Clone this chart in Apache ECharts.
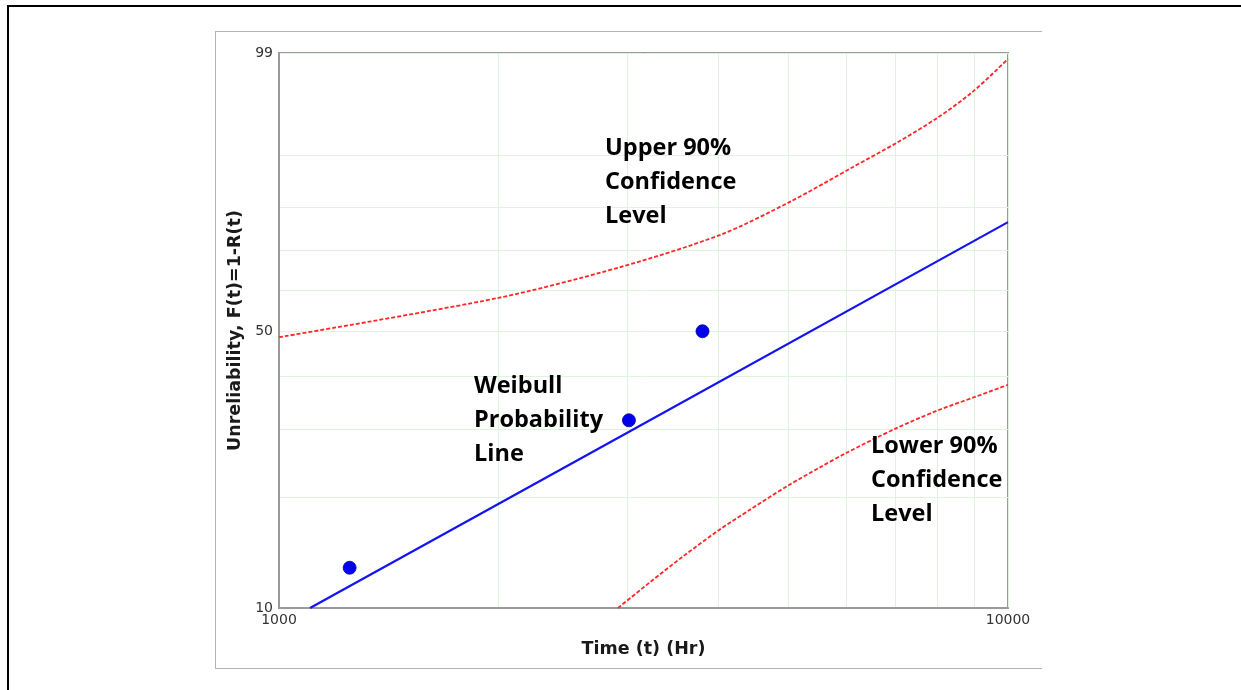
<!DOCTYPE html>
<html>
<head>
<meta charset="utf-8">
<script src="https://cdn.jsdelivr.net/npm/echarts@6/dist/echarts.min.js"></script>
<style>
  html, body { margin: 0; padding: 0; background: #fff; }
  #outer { position: absolute; left: 7px; top: 5px; width: 1300px; height: 800px;
           border-left: 2px solid #000; border-top: 2px solid #000; }
  #frame { position: absolute; left: 215px; top: 31px; width: 826px; height: 636px;
           border-left: 1px solid #b4b4b4; border-top: 1px solid #b4b4b4; border-bottom: 1px solid #b4b4b4; }
  #chart { position: absolute; left: 0; top: 0; width: 1241px; height: 690px; }
</style>
</head>
<body>
<div id="outer"></div>
<div id="frame"></div>
<div id="chart"></div>
<script>
// ---- data ----
const timeTicks = [1000, 10000];
const unrelTicks = [10, 50, 99];
const timeGrid = [1000, 2000, 3000, 4000, 5000, 6000, 7000, 8000, 9000, 10000];
const unrelGrid = [10, 20, 30, 40, 50, 60, 70, 80, 90, 99];

const failureTimes = [1250, 3020, 3810];
const medianRanks = [12.94, 31.48, 50.0];

const fitTimes = [1103, 3000, 10000];
const fitUnrel = [10.0, 29.3, 76.7];

const upperTimes = [1000, 2000, 2940, 4030, 5020, 6130, 7040, 7990, 8950, 10000];
const upperUnrel = [48.6, 58.1, 65.8, 73.7, 81.2, 88.0, 91.8, 94.8, 97.1, 98.8];

const lowerTimes = [2917, 3228, 3583, 4014, 4428, 5007, 5522, 5996, 6998, 7991, 9010, 10000];
const lowerUnrel = [10.0, 11.8, 13.9, 16.4, 18.6, 21.6, 24.0, 26.1, 30.0, 33.2, 35.8, 38.2];

// ---- Weibull probability paper scales ----
const lx = t => Math.log10(t);
const wy = f => Math.log(-Math.log(1 - f / 100));
const pairs = (ts, fs) => ts.map((t, i) => [lx(t), wy(fs[i])]);

const tickLabelX = {};
timeTicks.forEach(t => { tickLabelX[lx(t).toFixed(6)] = String(t); });
const tickLabelY = {};
unrelTicks.forEach(f => { tickLabelY[wy(f).toFixed(6)] = String(f); });

const chart = echarts.init(document.getElementById('chart'), null, { renderer: 'canvas' });
chart.setOption({
  animation: false,
  backgroundColor: 'transparent',
  grid: { left: 279, top: 53, width: 729, height: 555, show: true,
          borderColor: '#9a9a9a', borderWidth: 2, backgroundColor: 'transparent' },
  xAxis: {
    type: 'value', min: lx(1000), max: lx(10000),
    name: 'Time (t) (Hr)', nameLocation: 'middle', nameGap: 32,
    nameTextStyle: { fontFamily: 'DejaVu Sans', fontWeight: 'bold', fontSize: 17.5, color: '#1a1a1a' },
    axisLine: { show: true, onZero: false, lineStyle: { color: '#9a9a9a', width: 2 } },
    axisTick: { show: false, customValues: timeGrid.map(lx) },
    splitLine: { show: true, lineStyle: { color: '#dcf5dc', width: 1 } },
    axisLabel: {
      customValues: timeTicks.map(lx), margin: 5,
      fontFamily: 'DejaVu Sans', fontSize: 14, color: '#333',
      formatter: v => tickLabelX[v.toFixed(6)] || ''
    }
  },
  yAxis: {
    type: 'value', min: wy(10), max: wy(99),
    name: 'Unreliability, F(t)=1-R(t)', nameLocation: 'middle', nameGap: 35,
    nameTextStyle: { fontFamily: 'DejaVu Sans', fontWeight: 'bold', fontSize: 17.5, color: '#1a1a1a' },
    axisLine: { show: true, onZero: false, lineStyle: { color: '#9a9a9a', width: 2 } },
    axisTick: { show: false, customValues: unrelGrid.map(wy) },
    splitLine: { show: true, lineStyle: { color: '#dcf5dc', width: 1 } },
    axisLabel: {
      customValues: unrelTicks.map(wy), margin: 6,
      fontFamily: 'DejaVu Sans', fontSize: 14, color: '#333',
      formatter: v => tickLabelY[v.toFixed(6)] || ''
    }
  },
  series: [
    { type: 'line', name: 'Upper 90%', data: pairs(upperTimes, upperUnrel), smooth: 0.3,
      showSymbol: false, lineStyle: { color: '#ff2626', width: 1.8, type: [4, 2] }, z: 3 },
    { type: 'line', name: 'Lower 90%', data: pairs(lowerTimes, lowerUnrel), smooth: 0.3,
      showSymbol: false, lineStyle: { color: '#ff2626', width: 1.8, type: [4, 2] }, z: 3 },
    { type: 'line', name: 'Weibull', data: pairs(fitTimes, fitUnrel),
      showSymbol: false, lineStyle: { color: '#1414f0', width: 2.2 }, z: 4 },
    { type: 'scatter', name: 'Data', data: pairs(failureTimes, medianRanks), symbolSize: 13,
      itemStyle: { color: '#0000ee', borderColor: '#000090', borderWidth: 0.8, opacity: 1 }, z: 5 }
  ],
  graphic: [
    { type: 'text', left: 605, top: 131, z: 10,
      style: { text: 'Upper 90%\nConfidence\nLevel', font: 'bold 23.5px "Open Sans"', lineHeight: 34, fill: '#000' } },
    { type: 'text', left: 474, top: 369, z: 10,
      style: { text: 'Weibull\nProbability\nLine', font: 'bold 23.5px "Open Sans"', lineHeight: 34, fill: '#000' } },
    { type: 'text', left: 871, top: 429, z: 10,
      style: { text: 'Lower 90%\nConfidence\nLevel', font: 'bold 23.5px "Open Sans"', lineHeight: 34, fill: '#000' } }
  ]
});
</script>
</body>
</html>
